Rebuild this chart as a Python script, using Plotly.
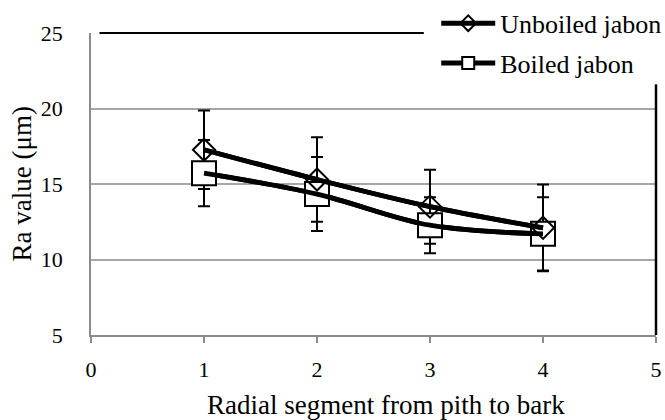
import plotly.graph_objects as go

segments = [1, 2, 3, 4]
unboiled = [17.27, 15.3, 13.5, 12.1]
unboiled_err = [2.6, 2.8, 2.45, 2.87]
boiled = [15.72, 14.33, 12.27, 11.7]
boiled_err = [2.2, 2.45, 1.86, 2.43]
x_ticks = [0, 1, 2, 3, 4, 5]
y_ticks = [5, 10, 15, 20, 25]

FONT = "Liberation Serif"
fig = go.Figure()

# error bars (drawn below markers and lines)
for ys, es in [(unboiled, unboiled_err), (boiled, boiled_err)]:
    fig.add_trace(go.Scatter(
        x=segments, y=ys, mode="markers", showlegend=False, hoverinfo="skip",
        marker=dict(size=1, color="rgba(0,0,0,0)"),
        error_y=dict(type="data", array=es, visible=True, color="black", thickness=2, width=6),
    ))

# markers (+ legend entries)
fig.add_trace(go.Scatter(
    x=segments, y=boiled, mode="lines+markers", name="Boiled jabon",
    legendrank=2, legendgroup="b",
    line=dict(color="black", width=4.8, shape="spline"),
    marker=dict(symbol="square", size=24, color="white", line=dict(color="black", width=2)),
))
fig.add_trace(go.Scatter(
    x=segments, y=unboiled, mode="lines+markers", name="Unboiled jabon",
    legendrank=1, legendgroup="u",
    line=dict(color="black", width=4.8, shape="spline"),
    marker=dict(symbol="diamond-open", size=17, color="black", line=dict(color="black", width=2)),
))

# lines on top
for ys in [boiled, unboiled]:
    fig.add_trace(go.Scatter(
        x=segments, y=ys, mode="lines", showlegend=False, hoverinfo="skip",
        line=dict(color="black", width=4.8, shape="spline"),
    ))

fig.update_layout(
    width=665, height=420,
    margin=dict(l=91, r=9, t=33, b=85, autoexpand=False),
    paper_bgcolor="white", plot_bgcolor="white",
    font=dict(family=FONT, size=22, color="black"),
    showlegend=True,
    legend=dict(
        x=0.611, xanchor="left", y=1.11, yanchor="top",
        bgcolor="rgba(0,0,0,0)", borderwidth=0, itemwidth=54, itemsizing="constant",
        font=dict(family=FONT, size=26, color="black"),
        tracegroupgap=3,
    ),
    xaxis=dict(
        range=[0, 5], tickvals=x_ticks, ticktext=[str(v) for v in x_ticks],
        showgrid=False, zeroline=False, showline=True, linecolor="#8c8c8c", linewidth=1.5,
        ticks="outside", ticklen=6, tickcolor="#8c8c8c", tickwidth=1.5,
        tickfont=dict(family=FONT, size=22, color="black"), ticklabelstandoff=8,
    ),
    yaxis=dict(
        range=[5, 25], tickvals=y_ticks, ticktext=[str(v) for v in y_ticks],
        showgrid=True, gridcolor="#a6a6a6", gridwidth=1.5,
        zeroline=False, showline=True, linecolor="#8c8c8c", linewidth=1.5,
        ticks="", tickfont=dict(family=FONT, size=22, color="black"), ticklabelstandoff=22,
    ),
    shapes=[
        dict(type="line", xref="paper", yref="paper", x0=0.015, x1=0.589, y0=1, y1=1,
             line=dict(color="black", width=2)),
        dict(type="line", xref="paper", yref="paper", x0=1, x1=1, y0=0, y1=0.83,
             line=dict(color="black", width=2.5)),
    ],
    annotations=[
        dict(text="Radial segment from pith to bark", xref="paper", yref="paper",
             x=0.523, y=-0.232, xanchor="center", yanchor="middle", showarrow=False,
             font=dict(family=FONT, size=27, color="black")),
        dict(text="Ra value (μm)", xref="paper", yref="paper",
             x=-0.123, y=0.5, xanchor="center", yanchor="middle", textangle=-90, showarrow=False,
             font=dict(family=FONT, size=27, color="black")),
    ],
)

fig.write_html("out.html", config={"displayModeBar": False},
               post_script="document.body.style.margin='0px';")
